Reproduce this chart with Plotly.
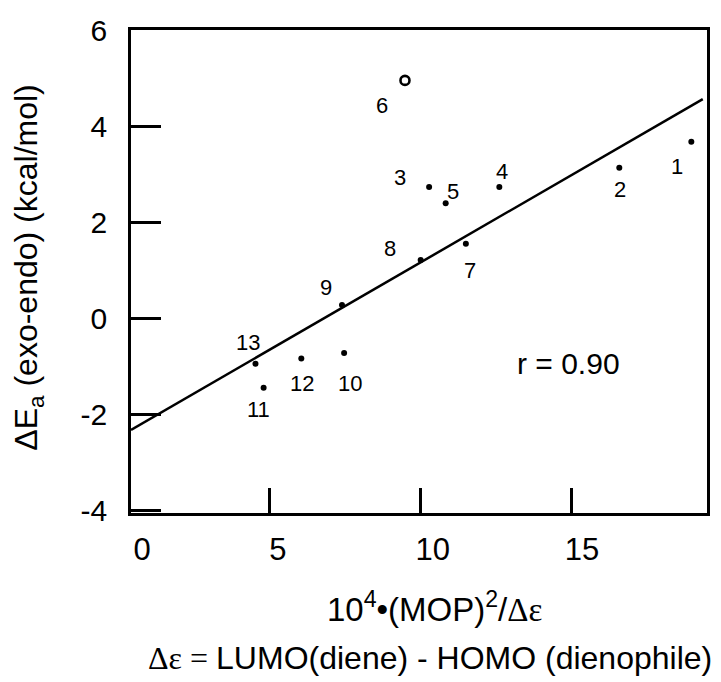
import plotly.graph_objects as go

# ---- data ----
labels = ["1", "2", "3", "4", "5", "7", "8", "9", "10", "11", "12", "13"]
x_vals = [18.99, 16.60, 10.29, 12.62, 10.84, 11.51, 10.01, 7.40, 7.47, 4.80, 6.05, 4.53]
y_vals = [3.67, 3.13, 2.73, 2.73, 2.39, 1.55, 1.21, 0.27, -0.73, -1.45, -0.84, -0.95]

outlier_label = ["6"]
outlier_x = [9.49]
outlier_y = [4.95]

fit_x = [0.40, 19.37]
fit_y = [-2.33, 4.56]

y_ticks = [-4, -2, 0, 2, 4, 6]
y_tick_text = ["-4", "-2", "0", "2", "4", "6"]
x_ticks = [5, 10, 15]
x_tick_text = ["0", "5", "10", "15"]
x_tick_label_at = [0.77, 5.27, 10.41, 15.36]

r_text = "r = 0.90"

# ---- styling (pixel offsets of point labels) ----
label_shift = {
    "1": (-14, -25), "2": (1, -22), "3": (-29, 10), "4": (3, 16), "5": (7, 12),
    "6": (-23, -25), "7": (4, -27), "8": (-31, 11), "9": (-16, 18),
    "10": (6, -30), "11": (-5, -22), "12": (1, -25), "13": (-7, 21),
}

FONT = "Liberation Sans, Arial, sans-serif"
SERIF = "Liberation Serif"

fig = go.Figure()
fig.add_trace(go.Scatter(x=fit_x, y=fit_y, mode="lines",
                         line=dict(color="black", width=2.5),
                         showlegend=False, hoverinfo="skip"))
fig.add_trace(go.Scatter(x=x_vals, y=y_vals, mode="markers",
                         marker=dict(color="black", size=6),
                         showlegend=False))
fig.add_trace(go.Scatter(x=outlier_x, y=outlier_y, mode="markers",
                         marker=dict(symbol="circle-open", color="black", size=9,
                                     line=dict(width=2.6, color="black")),
                         showlegend=False))
# helper trace that carries the tick-label axis
fig.add_trace(go.Scatter(x=x_tick_label_at, y=[None] * len(x_tick_label_at),
                         xaxis="x2", mode="none", showlegend=False, hoverinfo="skip"))

annotations = []
for lab, xv, yv in zip(labels + outlier_label, x_vals + outlier_x, y_vals + outlier_y):
    dx, dy = label_shift[lab]
    annotations.append(dict(x=xv, y=yv, xref="x", yref="y", text=lab, showarrow=False,
                            xshift=dx, yshift=dy,
                            font=dict(family=FONT, size=22, color="black")))

annotations.append(dict(x=0.759, y=0.310, xref="paper", yref="paper", text=r_text,
                        showarrow=False, xanchor="center", yanchor="middle",
                        font=dict(family=FONT, size=30, color="black")))
annotations.append(dict(x=-0.178, y=0.509, xref="paper", yref="paper",
                        text="ΔE<sub>a</sub> (exo-endo) (kcal/mol)", textangle=-90,
                        showarrow=False, xanchor="center", yanchor="middle",
                        font=dict(family=FONT, size=32, color="black")))
annotations.append(dict(x=0.5276, y=-0.194, xref="paper", yref="paper",
                        text="10<sup>4</sup>•(MOP)<sup>2</sup>/<span style=\"font-family:%s\">Δε</span>" % SERIF,
                        showarrow=False, xanchor="center", yanchor="middle",
                        font=dict(family=FONT, size=33, color="black")))
annotations.append(dict(x=0.519, y=-0.300, xref="paper", yref="paper",
                        text="<span style=\"font-family:%s\">Δε = </span>LUMO(diene) - HOMO (dienophile)" % SERIF,
                        showarrow=False, xanchor="center", yanchor="middle",
                        font=dict(family=FONT, size=32, color="black")))

xrange = [0.40, 19.51]
fig.update_layout(
    width=721, height=682,
    margin=dict(l=131, r=14, t=30, b=169),
    paper_bgcolor="white", plot_bgcolor="white",
    showlegend=False,
    font=dict(family=FONT, size=30, color="black"),
    xaxis=dict(range=xrange, tickvals=x_ticks, showticklabels=False,
               ticks="inside", ticklen=25, tickwidth=2.5, tickcolor="black",
               showline=True, linewidth=2.6, linecolor="black", mirror=True,
               showgrid=False, zeroline=False),
    xaxis2=dict(range=xrange, overlaying="x", anchor="y", side="bottom",
                tickvals=x_tick_label_at, ticktext=x_tick_text, ticks="",
                ticklabelstandoff=15, showline=False, showgrid=False, zeroline=False,
                tickfont=dict(family=FONT, size=31, color="black")),
    yaxis=dict(range=[-4.06, 6.0], tickvals=y_ticks, ticktext=y_tick_text,
               ticks="inside", ticklen=30, tickwidth=2.5, tickcolor="black",
               showline=True, linewidth=2.6, linecolor="black", mirror=True,
               showgrid=False, zeroline=False, ticklabelstandoff=15,
               tickfont=dict(family=FONT, size=30, color="black")),
    annotations=annotations,
)

fig.write_html("out.html", config={"displayModeBar": False},
               post_script="document.body.style.margin='0';document.body.style.padding='0';")
